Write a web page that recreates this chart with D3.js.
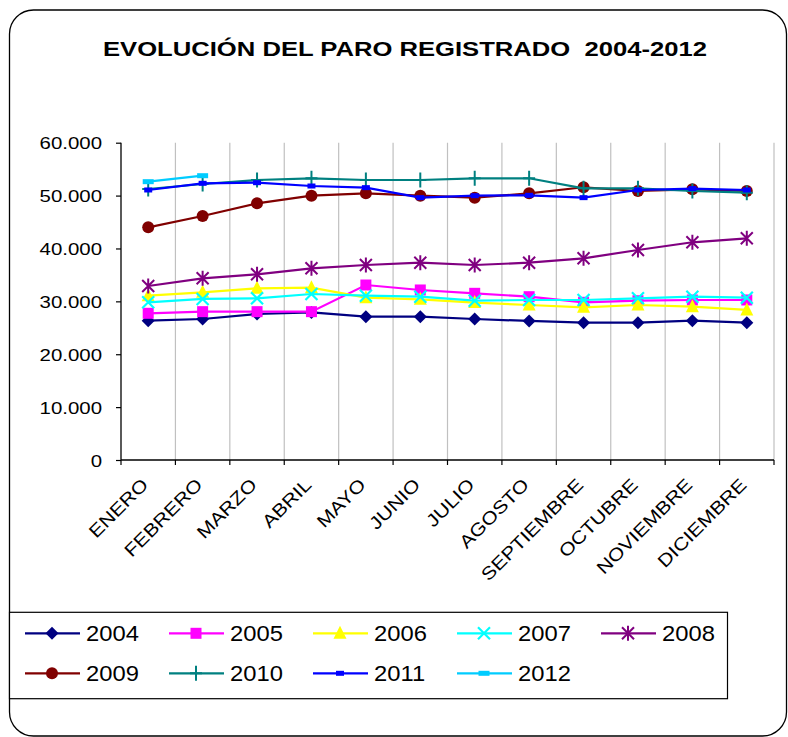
<!DOCTYPE html>
<html>
<head>
<meta charset="utf-8">
<script src="https://cdn.jsdelivr.net/npm/d3@7"></script>
<style>
html,body{margin:0;padding:0;background:#fff;}
text{font-family:Arial,"Liberation Sans",sans-serif;}
</style>
</head>
<body>
<svg id="c" width="788" height="737"></svg>
<script>
const months = ["ENERO","FEBRERO","MARZO","ABRIL","MAYO","JUNIO","JULIO","AGOSTO","SEPTIEMBRE","OCTUBRE","NOVIEMBRE","DICIEMBRE"];
const years = ["2004","2005","2006","2007","2008","2009","2010","2011","2012"];
const yTicks = [0,10000,20000,30000,40000,50000,60000];

const v2004 = [26340,26660,27610,27900,27100,27100,26660,26290,25960,25960,26340,25960];
const v2005 = [27740,28050,28050,28050,33090,32150,31520,30880,29820,30120,30260,30260];
const v2006 = [31070,31710,32470,32580,30690,30390,29760,29310,28870,29310,28990,28370];
const v2007 = [29820,30450,30570,31390,31070,30880,30120,30260,30260,30570,30880,30690];
const v2008 = [32900,34360,35110,36250,36870,37310,36870,37310,38140,39710,41170,41920];
const v2009 = [44000,46140,48540,49980,50430,49980,49610,50430,51570,50870,51190,50870];
const v2010 = [51250,52190,52950,53270,52950,52950,53270,53270,51380,51380,50870,50550];
const v2011 = [51060,52320,52440,51810,51500,49610,49980,50050,49610,51060,51320,51060];
const v2012 = [52630,53760];

const seriesValues = [v2004,v2005,v2006,v2007,v2008,v2009,v2010,v2011,v2012];
const colors = ["#000080","#FF00FF","#FFFF00","#00FFFF","#800080","#800000","#008080","#0000FF","#00CCFF"];
const markers = ["diamond","square","triangle","x","star","circle","plus","dash","dash2"];

const svg = d3.select("#c");
const stretch = 1.2;
function stretchText(sel, factor){
  sel.each(function(){
    const w = this.getComputedTextLength();
    d3.select(this).attr("textLength", w*factor).attr("lengthAdjust","spacingAndGlyphs");
  });
}

// outer rounded border
svg.append("rect").attr("x",9.5).attr("y",10).attr("width",777).attr("height",726)
  .attr("rx",24).attr("ry",24).attr("fill","#fff").attr("stroke","#000").attr("stroke-width",1.3);

// title
svg.append("text").attr("x",405).attr("y",56).attr("text-anchor","middle")
  .attr("font-weight","bold").attr("font-size",21).attr("fill","#000")
  .style("white-space","pre")
  .attr("textLength",604).attr("lengthAdjust","spacingAndGlyphs")
  .text("EVOLUCIÓN DEL PARO REGISTRADO  2004-2012");

const pLeft = 121, pRight = 774, pTop = 142.7, pBottom = 460;
const x = d3.scaleBand().domain(months).range([pLeft,pRight]).padding(0);
const y = d3.scaleLinear().domain([0,60000]).range([pBottom,pTop]);
const cx = m => x(m) + x.bandwidth()/2;

// vertical gridlines
const bounds = months.map(m => x(m) + x.bandwidth());
svg.append("g").selectAll("line").data(bounds).join("line")
  .attr("x1",d=>d).attr("x2",d=>d).attr("y1",pTop).attr("y2",pBottom)
  .attr("stroke","#c0c0c0").attr("stroke-width",1.2);

// y axis
const fmt = d3.formatLocale({decimal:",",thousands:".",grouping:[3],currency:["","€"]}).format(",d");
const yAxis = svg.append("g").attr("transform",`translate(${pLeft},0)`)
  .call(d3.axisLeft(y).tickValues(yTicks).tickSize(5).tickPadding(14).tickFormat(fmt));
yAxis.select(".domain").attr("stroke","#000").attr("stroke-width",1.3).attr("d",`M0,${pTop}V${pBottom}`);
yAxis.selectAll(".tick line").attr("stroke","#000").attr("stroke-width",1.2);
yAxis.selectAll(".tick text").attr("font-size",17).attr("fill","#000").attr("font-family","Arial, 'Liberation Sans', sans-serif")
  .attr("dy","0.36em").call(stretchText, stretch);

// x axis
const xAxis = svg.append("g").attr("transform",`translate(0,${pBottom})`)
  .call(d3.axisBottom(x).tickSize(0).tickFormat(""));
xAxis.select(".domain").attr("stroke","#000").attr("stroke-width",1.3).attr("d",`M${pLeft},0H${pRight}`);
xAxis.selectAll(".tick").remove();
xAxis.selectAll(".xt").data([pLeft].concat(bounds)).join("line")
  .attr("x1",d=>d).attr("x2",d=>d).attr("y1",0).attr("y2",5).attr("stroke","#000").attr("stroke-width",1.2);
svg.append("g").selectAll("text").data(months).join("text")
  .attr("transform",d=>`translate(${cx(d)+1},${pBottom+26}) rotate(-45)`)
  .attr("text-anchor","end").attr("font-size",18).attr("fill","#000")
  .text(d=>d).call(stretchText, 1.17);

function drawMarker(g, type, color){
  if(type==="diamond"){
    g.append("path").attr("d","M0,-6.5L6.5,0L0,6.5L-6.5,0Z").attr("fill",color);
  } else if(type==="square"){
    g.append("rect").attr("x",-5.5).attr("y",-5.5).attr("width",11).attr("height",11).attr("fill",color);
  } else if(type==="triangle"){
    g.append("path").attr("d","M0,-7.5L6.5,5.5L-6.5,5.5Z").attr("fill",color);
  } else if(type==="x"){
    g.append("path").attr("d","M-6,-6L6,6M-6,6L6,-6").attr("stroke",color).attr("stroke-width",2.2).attr("fill","none");
  } else if(type==="star"){
    g.append("path").attr("d","M-6,-6L6,6M-6,6L6,-6M0,-7.5V7.5").attr("stroke",color).attr("stroke-width",2).attr("fill","none");
  } else if(type==="circle"){
    g.append("circle").attr("r",6).attr("fill",color);
  } else if(type==="plus"){
    g.append("path").attr("d","M0,-7.5V7.5M-6,0H6").attr("stroke",color).attr("stroke-width",2).attr("fill","none");
  } else if(type==="dash"){
    g.append("rect").attr("x",-4).attr("y",-2.5).attr("width",8).attr("height",5).attr("fill",color);
  } else if(type==="dash2"){
    g.append("rect").attr("x",-5.5).attr("y",-2.5).attr("width",11).attr("height",5).attr("fill",color);
  }
}

// series
const line = d3.line().x((d,i)=>cx(months[i])).y(d=>y(d));
seriesValues.forEach((vals,si)=>{
  const g = svg.append("g");
  g.append("path").datum(vals).attr("d",line).attr("fill","none")
    .attr("stroke",colors[si]).attr("stroke-width",2.2);
  vals.forEach((v,i)=>{
    const mg = g.append("g").attr("transform",`translate(${cx(months[i])},${y(v)})`);
    drawMarker(mg, markers[si], colors[si]);
  });
});

// legend
svg.append("rect").attr("x",9.5).attr("y",612.3).attr("width",718).attr("height",86.4)
  .attr("fill","#fff").attr("stroke","#000").attr("stroke-width",1.2);
years.forEach((yr,i)=>{
  const col = i % 5, row = Math.floor(i/5);
  const lx = 25 + col*144, ly = 633.3 + row*40;
  const g = svg.append("g");
  g.append("line").attr("x1",lx).attr("x2",lx+55).attr("y1",ly).attr("y2",ly)
    .attr("stroke",colors[i]).attr("stroke-width",2.2);
  const mg = g.append("g").attr("transform",`translate(${lx+27},${ly})`);
  drawMarker(mg, markers[i], colors[i]);
  g.append("text").attr("x",lx+61).attr("y",ly).attr("dy","0.36em")
    .attr("font-size",22).attr("fill","#000").text(yr).call(stretchText, 1.08);
});
</script>
</body>
</html>
